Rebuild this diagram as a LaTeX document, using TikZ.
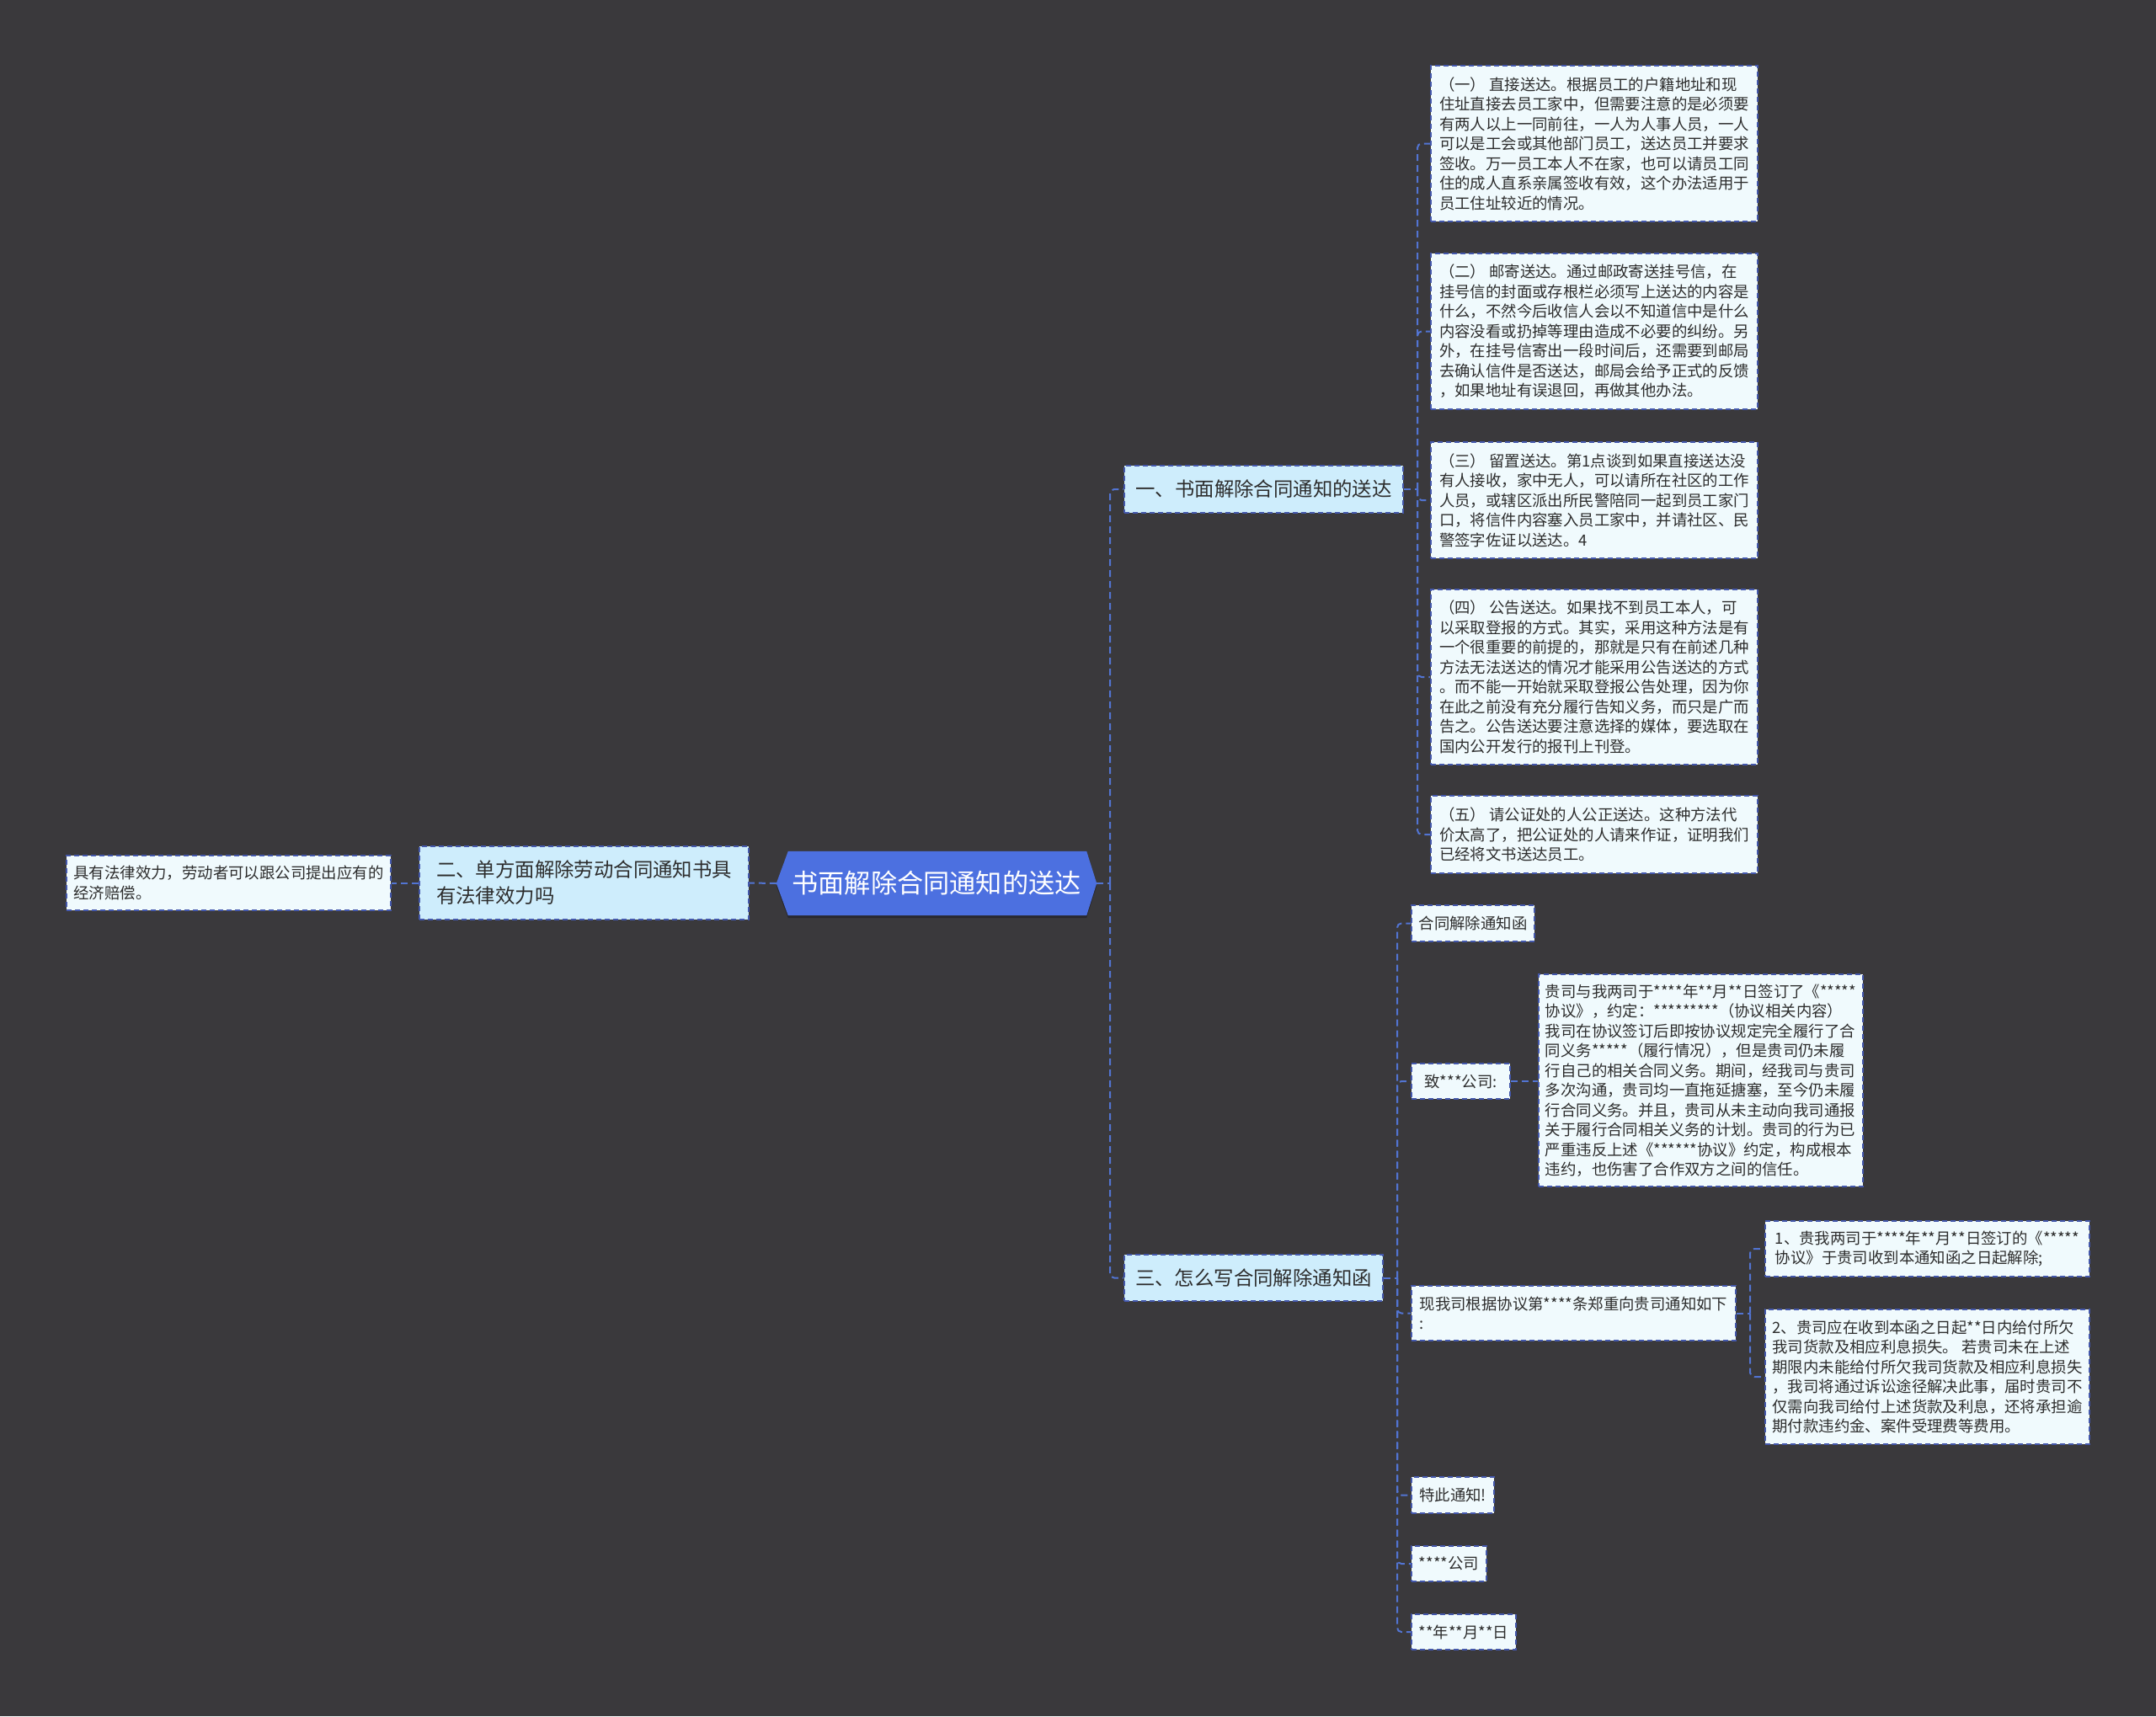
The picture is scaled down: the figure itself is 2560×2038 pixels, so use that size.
\documentclass[tikz,border=0pt]{standalone}
\usepackage{fontspec}
\setmainfont{Noto Sans CJK SC}
\usetikzlibrary{backgrounds}
\definecolor{pagebg}{RGB}{58,57,60}
\definecolor{rootblue}{RGB}{76,112,224}
\definecolor{rootshadow}{RGB}{40,40,46}
\definecolor{branchfill}{RGB}{206,237,252}
\definecolor{leaffill}{RGB}{240,250,253}
\definecolor{bordc}{RGB}{68,88,172}
\definecolor{connc}{RGB}{82,116,210}
\definecolor{txt}{RGB}{45,45,45}
\begin{document}
\begin{tikzpicture}[x=1pt,y=-1pt,
  box/.style={draw=bordc, line width=1.8pt, dash pattern=on 6pt off 4pt, inner sep=0pt, text=txt, align=left},
  leaf/.style={box, fill=leaffill, font=\fontsize{18.4}{23.5}\selectfont},
  branch/.style={box, fill=branchfill, font=\fontsize{23.4}{31}\selectfont},
  rootnode/.style={inner sep=0pt, text=white, font=\fontsize{31.2}{36}\selectfont},
  sz/.style 2 args={minimum width=#1, minimum height=#2},
  conn/.style={draw=connc, line width=2pt, dash pattern=on 8pt off 5pt},
  spine/.style={conn, rounded corners=5pt},
]
\useasboundingbox (0,0) rectangle (2560,2038);

% root
\node[rootnode, sz={380pt}{76pt}] (root) at (1112,1049) {书面解除合同通知的送达};
\begin{pgfonlayer}{background}
\fill[pagebg] (0,0) rectangle (2560,2038);
\fill[rootshadow] ([yshift=-3pt]root.west) -- ([xshift=14pt,yshift=-3pt]root.north west) -- ([xshift=-12pt,yshift=-3pt]root.north east) -- ([yshift=-3pt]root.east) -- ([xshift=-12pt,yshift=-3pt]root.south east) -- ([xshift=14pt,yshift=-3pt]root.south west) -- cycle;
\fill[rootblue] (root.west) -- ([xshift=14pt]root.north west) -- ([xshift=-12pt]root.north east) -- (root.east) -- ([xshift=-12pt]root.south east) -- ([xshift=14pt]root.south west) -- cycle;
\end{pgfonlayer}

% left side
\node[branch, sz={391pt}{87pt}] (lc) at (693.5,1048.5) {二、单方面解除劳动合同通知书具\\有法律效力吗};
\node[leaf, sz={385pt}{65pt}] (ll) at (271.5,1048.5) {具有法律效力，劳动者可以跟公司提出应有的\\经济赔偿。};

% branches right
\node[branch, sz={331pt}{56pt}] (b1) at (1500.5,581) {一、书面解除合同通知的送达};
\node[branch, sz={307pt}{55pt}] (b3) at (1488.5,1517.5) {三、怎么写合同解除通知函};

% branch 1 leaves
\node[leaf, sz={388pt}{185pt}] (l1) at (1893,170.5) {（一） 直接送达。根据员工的户籍地址和现\\住址直接去员工家中，但需要注意的是必须要\\有两人以上一同前往，一人为人事人员，一人\\可以是工会或其他部门员工，送达员工并要求\\签收。万一员工本人不在家，也可以请员工同\\住的成人直系亲属签收有效，这个办法适用于\\员工住址较近的情况。};
\node[leaf, sz={388pt}{185pt}] (l2) at (1893,393.5) {（二） 邮寄送达。通过邮政寄送挂号信，在\\挂号信的封面或存根栏必须写上送达的内容是\\什么，不然今后收信人会以不知道信中是什么\\内容没看或扔掉等理由造成不必要的纠纷。另\\外，在挂号信寄出一段时间后，还需要到邮局\\去确认信件是否送达，邮局会给予正式的反馈\\，如果地址有误退回，再做其他办法。};
\node[leaf, sz={388pt}{138pt}] (l3) at (1893,594) {（三） 留置送达。第1点谈到如果直接送达没\\有人接收，家中无人，可以请所在社区的工作\\人员，或辖区派出所民警陪同一起到员工家门\\口，将信件内容塞入员工家中，并请社区、民\\警签字佐证以送达。4};
\node[leaf, sz={388pt}{208pt}] (l4) at (1893,804) {（四） 公告送达。如果找不到员工本人，可\\以采取登报的方式。其实，采用这种方法是有\\一个很重要的前提的，那就是只有在前述几种\\方法无法送达的情况才能采用公告送达的方式\\。而不能一开始就采取登报公告处理，因为你\\在此之前没有充分履行告知义务，而只是广而\\告之。公告送达要注意选择的媒体，要选取在\\国内公开发行的报刊上刊登。};
\node[leaf, sz={388pt}{92pt}] (l5) at (1893,991) {（五） 请公证处的人公正送达。这种方法代\\价太高了，把公证处的人请来作证，证明我们\\已经将文书送达员工。};

% branch 3 children
\node[leaf, sz={146pt}{43pt}] (c1) at (1749,1096.5) {合同解除通知函};
\node[leaf, sz={117pt}{42pt}] (c2) at (1734.5,1284) {致***公司:};
\node[leaf, sz={385pt}{252pt}] (c2a) at (2019.5,1283) {贵司与我两司于****年**月**日签订了《*****\\协议》，约定：*********（协议相关内容）\\我司在协议签订后即按协议规定完全履行了合\\同义务*****（履行情况），但是贵司仍未履\\行自己的相关合同义务。期间，经我司与贵司\\多次沟通，贵司均一直拖延搪塞，至今仍未履\\行合同义务。并且，贵司从未主动向我司通报\\关于履行合同相关义务的计划。贵司的行为已\\严重违反上述《******协议》约定，构成根本\\违约，也伤害了合作双方之间的信任。};
\node[leaf, sz={385pt}{65pt}] (c3) at (1868.5,1559.5) {现我司根据协议第****条郑重向贵司通知如下\\:};
\node[leaf, sz={385pt}{66pt}] (c3a) at (2288.5,1483) {1、贵我两司于****年**月**日签订的《*****\\协议》于贵司收到本通知函之日起解除;};
\node[leaf, sz={385pt}{160pt}] (c3b) at (2288.5,1635) {2、贵司应在收到本函之日起**日内给付所欠\\我司货款及相应利息损失。 若贵司未在上述\\期限内未能给付所欠我司货款及相应利息损失\\，我司将通过诉讼途径解决此事，届时贵司不\\仅需向我司给付上述货款及利息，还将承担逾\\期付款违约金、案件受理费等费用。};
\node[leaf, sz={98pt}{43pt}] (c4) at (1725,1775.5) {特此通知!};
\node[leaf, sz={89pt}{42pt}] (c5) at (1720.5,1857) {****公司};
\node[leaf, sz={124pt}{42pt}] (c6) at (1738,1938) {**年**月**日};

% spine coordinates
\coordinate (sp0) at (1318,1049);
\coordinate (sp1) at (1683,581);
\coordinate (sp3) at (1659,1517.5);
\coordinate (sp4) at (2078,1559.5);

% connectors
\begin{pgfonlayer}{background}
\draw[conn] (root.west) -- (lc.east);
\draw[conn] (lc.west) -- (ll.east);
\draw[conn] (root.east) -- (sp0);
\draw[spine] (sp0) |- (b1.west);
\draw[spine] (sp0) |- (b3.west);
\draw[conn] (b1.east) -- (sp1);
\foreach \n in {l1,l2,l3,l4,l5} { \draw[spine] (sp1) |- (\n.west); }
\draw[conn] (b3.east) -- (sp3);
\foreach \n in {c1,c2,c3,c4,c5,c6} { \draw[spine] (sp3) |- (\n.west); }
\draw[conn] (c2.east) -- (c2.east -| c2a.west);
\draw[conn] (c3.east) -- (sp4);
\draw[spine] (sp4) |- (c3a.west);
\draw[spine] (sp4) |- (c3b.west);
\end{pgfonlayer}
\end{tikzpicture}
\end{document}
